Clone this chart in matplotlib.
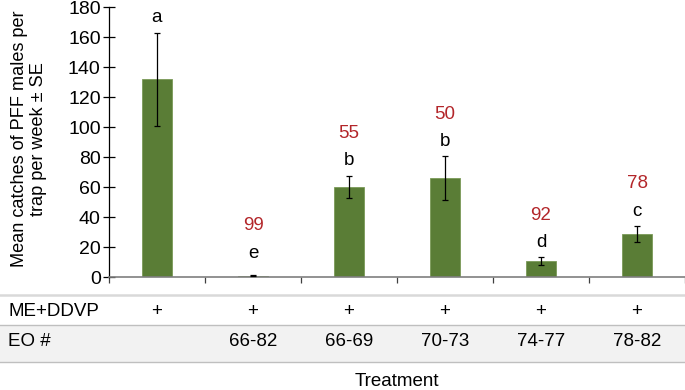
import numpy as np
import matplotlib.pyplot as plt
from matplotlib.lines import Line2D
from matplotlib.patches import Rectangle
from matplotlib.transforms import blended_transform_factory

plt.rcParams['font.family'] = ['Liberation Sans', 'DejaVu Sans']

# data
means = [132, 1, 60, 66, 10.5, 28.7]
se = [31, 0.3, 7.5, 14.5, 2.7, 5.3]
letters = ['a', 'e', 'b', 'b', 'd', 'c']
reduction = ['', '99', '55', '50', '92', '78']
me_ddvp = ['+', '+', '+', '+', '+', '+']
eo_ranges = ['', '66-82', '66-69', '70-73', '74-77', '78-82']

bar_color = '#5a7d36'
red = '#b3262a'
fs = 13.5

fig = plt.figure(figsize=(6.85, 3.9), dpi=100)
ax = fig.add_axes([109/685, 1 - 277/390, 576/685, 270/390])

x = np.arange(len(means))
ax.bar(x, means, width=0.31, color=bar_color, edgecolor='#7a9a58', linewidth=0.6, zorder=2)
ax.errorbar(x, means, yerr=se, fmt='none', ecolor='black', elinewidth=0.9,
            capsize=2, capthick=0.9, zorder=3)

tops = np.array(means) + np.array(se)
letter_y = np.maximum(tops + 10, 16)
for i in range(len(means)):
    ax.text(x[i], letter_y[i], letters[i], ha='center', va='center', fontsize=fs)
    if reduction[i]:
        ax.text(x[i], letter_y[i] + 18, reduction[i], ha='center', va='center',
                fontsize=fs, color=red)

ax.set_xlim(-0.5, len(means) - 0.5)
ax.set_ylim(0, 180)
ax.set_yticks(np.arange(0, 181, 20))
ax.set_xticks(np.arange(-0.5, len(means), 1.0))
ax.set_xticklabels([])
ax.tick_params(axis='y', direction='inout', length=8, width=0.9, labelsize=14, pad=2)
ax.tick_params(axis='x', direction='out', length=4, width=0.9, color='#404040')
for s in ['top', 'right']:
    ax.spines[s].set_visible(False)
ax.spines['left'].set_color('black')
ax.spines['left'].set_linewidth(0.9)
ax.spines['bottom'].set_color('#7f7f7f')
ax.spines['bottom'].set_linewidth(1.2)

# table below the chart
def fy(p):
    return 1 - p / 390

fig.text(29/685, fy(139), 'Mean catches of PFF males per\ntrap per week ± SE',
         rotation=90, ha='center', va='center', fontsize=13.1, linespacing=1.22,
         multialignment='center')

fig.add_artist(Rectangle((0, fy(362)), 1, fy(325) - fy(362), transform=fig.transFigure,
                         facecolor='#f2f2f2', edgecolor='none', zorder=0))
fig.add_artist(Line2D([0, 1], [fy(295), fy(295)], transform=fig.transFigure,
                      color='#d9d9d9', linewidth=1.8))
fig.add_artist(Line2D([0, 1], [fy(325), fy(325)], transform=fig.transFigure,
                      color='#bfbfbf', linewidth=1.0))
fig.add_artist(Line2D([0, 1], [fy(362), fy(362)], transform=fig.transFigure,
                      color='#bfbfbf', linewidth=1.0))

tr = blended_transform_factory(ax.transData, fig.transFigure)
fig.text(8/685, fy(311), 'ME+DDVP', ha='left', va='center', fontsize=fs)
fig.text(8/685, fy(342), 'EO #', ha='left', va='center', fontsize=fs)
for i in range(len(means)):
    ax.text(x[i], fy(311), me_ddvp[i], transform=tr, ha='center', va='center',
            fontsize=fs, clip_on=False)
    ax.text(x[i], fy(342), eo_ranges[i], transform=tr, ha='center', va='center',
            fontsize=fs, clip_on=False)

fig.text(397/685, fy(382), 'Treatment', ha='center', va='center', fontsize=fs)

fig.savefig('out.png', dpi=100)
